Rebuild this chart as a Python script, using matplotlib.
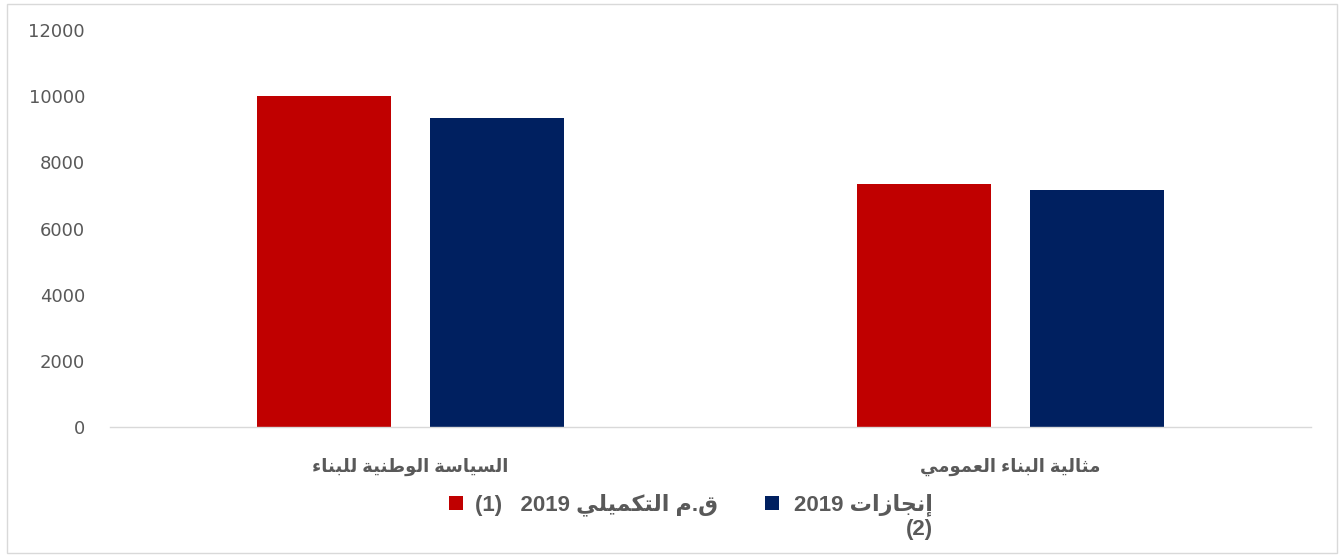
import matplotlib
matplotlib.use("Agg")
import matplotlib.pyplot as plt
from matplotlib.patches import Rectangle
import numpy as np

# ---------------- data ----------------
categories = ["السياسة الوطنية للبناء", "مثالية البناء العمومي"]
series_names = ["ق.م التكميلي 2019   (1)", "إنجازات 2019\n(2)"]
values_s1 = [9990, 7330]
values_s2 = [9330, 7160]
ytick_values = [0, 2000, 4000, 6000, 8000, 10000, 12000]
colors = ["#C00000", "#002060"]

# ------------- minimal Arabic shaping (presentation forms) -------------
FORMS = {
    '\u0621': ('\uFE80', None, None, None),
    '\u0622': ('\uFE81', '\uFE82', None, None),
    '\u0623': ('\uFE83', '\uFE84', None, None),
    '\u0625': ('\uFE87', '\uFE88', None, None),
    '\u0627': ('\uFE8D', '\uFE8E', None, None),
    '\u0628': ('\uFE8F', '\uFE90', '\uFE91', '\uFE92'),
    '\u0629': ('\uFE93', '\uFE94', None, None),
    '\u062A': ('\uFE95', '\uFE96', '\uFE97', '\uFE98'),
    '\u062B': ('\uFE99', '\uFE9A', '\uFE9B', '\uFE9C'),
    '\u062C': ('\uFE9D', '\uFE9E', '\uFE9F', '\uFEA0'),
    '\u0632': ('\uFEAF', '\uFEB0', None, None),
    '\u0633': ('\uFEB1', '\uFEB2', '\uFEB3', '\uFEB4'),
    '\u0637': ('\uFEC1', '\uFEC2', '\uFEC3', '\uFEC4'),
    '\u0639': ('\uFEC9', '\uFECA', '\uFECB', '\uFECC'),
    '\u0642': ('\uFED5', '\uFED6', '\uFED7', '\uFED8'),
    '\u0643': ('\uFED9', '\uFEDA', '\uFEDB', '\uFEDC'),
    '\u0644': ('\uFEDD', '\uFEDE', '\uFEDF', '\uFEE0'),
    '\u0645': ('\uFEE1', '\uFEE2', '\uFEE3', '\uFEE4'),
    '\u0646': ('\uFEE5', '\uFEE6', '\uFEE7', '\uFEE8'),
    '\u0648': ('\uFEED', '\uFEEE', None, None),
    '\u064A': ('\uFEF1', '\uFEF2', '\uFEF3', '\uFEF4'),
}
LAM_ALEF = {'\u0622': ('\uFEF5', '\uFEF6'), '\u0623': ('\uFEF7', '\uFEF8'),
            '\u0625': ('\uFEF9', '\uFEFA'), '\u0627': ('\uFEFB', '\uFEFC')}


def joins_left(c):
    return c in FORMS and FORMS[c][2] is not None


def joins_right(c):
    return c in FORMS and FORMS[c][1] is not None


def shape_word(w):
    out = []
    i = 0
    while i < len(w):
        c = w[i]
        prev = w[i - 1] if i > 0 else None
        nxt = w[i + 1] if i + 1 < len(w) else None
        if c not in FORMS:
            out.append(c)
            i += 1
            continue
        jp = prev is not None and joins_left(prev) and joins_right(c)
        if c == '\u0644' and nxt in LAM_ALEF:
            out.append(LAM_ALEF[nxt][1 if jp else 0])
            i += 2
            continue
        jn = joins_left(c) and nxt is not None and joins_right(nxt)
        iso, fin, ini, med = FORMS[c]
        if jp and jn:
            out.append(med)
        elif jp:
            out.append(fin)
        elif jn:
            out.append(ini)
        else:
            out.append(iso)
        i += 1
    return ''.join(out)


def is_arabic(tok):
    return any('\u0600' <= ch <= '\u06FF' for ch in tok)


def visual_line(text):
    toks = text.split(' ')
    res = []
    for t in reversed(toks):
        res.append(shape_word(t)[::-1] if is_arabic(t) else t)
    return ' '.join(res)


def visual(text):
    return '\n'.join(visual_line(l) for l in text.split('\n'))


# ---------------- figure ----------------
W, H = 1343, 557
fig = plt.figure(figsize=(W / 100, H / 100), dpi=100)
fig.patch.set_facecolor("white")
fig.add_artist(Rectangle((7 / W, 4 / H), 1330 / W, 549 / H, transform=fig.transFigure,
                         fill=False, edgecolor="#D9D9D9", linewidth=1.0))

ax = fig.add_axes([110 / W, 130 / H, 1201 / W, 397 / H])
x = np.arange(len(categories))
bw = 0.223
off = 0.144
bars1 = ax.bar(x - off, values_s1, width=bw, color=colors[0])
bars2 = ax.bar(x + off, values_s2, width=bw, color=colors[1])

ax.set_xlim(-0.5, 1.5)
ax.set_ylim(0, 12000)
ax.set_yticks(ytick_values)
ax.set_yticklabels([str(v) for v in ytick_values])
ax.tick_params(axis="y", length=0, pad=18, labelsize=13, labelcolor="#595959")
ax.set_xticks(x)
ax.set_xticklabels([visual(c) for c in categories],
                   fontdict={"family": ["Liberation Sans", "DejaVu Sans"], "weight": "bold",
                             "size": 13})
ax.tick_params(axis="x", length=0, pad=22, labelcolor="#595959")
for s in ["top", "right", "left"]:
    ax.spines[s].set_visible(False)
ax.spines["bottom"].set_color("#D9D9D9")
ax.spines["bottom"].set_linewidth(1.0)

# ---------------- legend (RTL style, drawn manually) ----------------
sq = 13.5
leg_items = [(449, 475), (765, 794)]  # (square left px, text left px)
for (sx, tx), name, col in zip(leg_items, series_names, colors):
    fig.add_artist(Rectangle((sx / W, 1 - (496 + sq) / H), sq / W, sq / H,
                             transform=fig.transFigure, facecolor=col, edgecolor="none"))
    fig.text(tx / W, 1 - 493 / H, visual(name), ha="left", va="top",
             multialignment="right", linespacing=1.2, color="#595959",
             family=["Liberation Sans", "DejaVu Sans"], weight="bold", size=16)

fig.savefig("out.png", dpi=100, facecolor="white")
